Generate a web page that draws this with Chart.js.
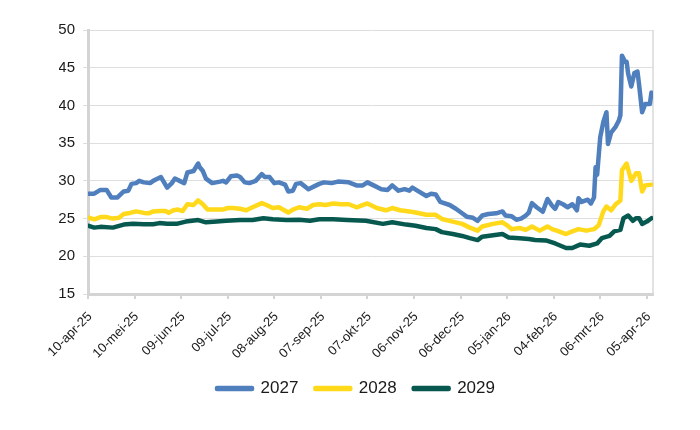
<!DOCTYPE html>
<html>
<head>
<meta charset="utf-8">
<script src="https://cdn.jsdelivr.net/npm/chart.js@4"></script>
<style>
  html, body { margin: 0; padding: 0; background: #ffffff; }
  #wrap { width: 700px; height: 430px; }
</style>
</head>
<body>
<div id="wrap"><canvas id="c" width="700" height="430"></canvas></div>
<script>
// Day offsets counted from 10-apr-25 (calendar days), and values
const tickLabels = ['10-apr-25','10-mei-25','09-jun-25','09-jul-25','08-aug-25','07-sep-25','07-okt-25','06-nov-25','06-dec-25','05-jan-26','04-feb-26','06-mrt-26','05-apr-26'];
const seriesNames = ['2027', '2028', '2029'];

const days2027 = [0,4,8,12,15,19,23,26,28,31,33,36,40,42,45,47,51,54,56,59,62,64,68,71,72,74,76,80,85,87,89,92,96,98,101,104,108,112,114,117,120,123,127,129,132,134,137,142,146,149,152,157,161,168,173,177,180,184,189,193,196,200,204,207,209,213,218,221,224,227,233,237,241,244,248,251,254,258,263,267,269,273,276,279,282,284,286,289,293,296,299,301,303,306,309,312,315,316,318,322,324,326,327,328,330,332,334,335,337,340,342,343,344,346,347,348,350,352,354,355,357,359,362,363];
const values2027 = [28.3,28.3,28.8,28.8,27.8,27.8,28.6,28.7,29.6,29.7,30.0,29.8,29.7,30.0,30.3,30.5,29.1,29.7,30.3,30.0,29.7,31.1,31.3,32.3,31.8,31.3,30.3,29.7,29.9,30.0,29.8,30.6,30.7,30.5,29.8,29.7,30.0,30.9,30.5,30.5,29.7,29.8,29.5,28.6,28.7,29.6,29.7,28.9,29.3,29.6,29.8,29.7,29.9,29.8,29.4,29.4,29.8,29.4,28.9,28.8,29.4,28.7,28.9,28.7,29.1,28.6,28.0,28.3,28.2,27.2,26.8,26.3,25.7,25.25,25.1,24.7,25.4,25.6,25.7,25.95,25.4,25.3,24.85,25.0,25.4,25.8,27.05,26.5,25.9,27.6,26.7,26.3,27.2,26.9,26.5,26.9,26.1,27.7,27.2,27.5,27.0,27.8,31.8,30.8,35.8,37.8,39.1,34.9,36.4,37.2,38.0,38.7,46.6,45.8,45.8,44.2,42.5,44.3,44.5,42.8,39.1,40.2,40.2,41.7];

const days2028 = [0,4,8,12,16,20,23,27,31,36,39,42,46,50,52,55,58,61,64,68,71,74,77,83,87,90,93,98,102,106,112,115,119,123,129,132,136,141,145,149,153,158,163,168,173,180,186,192,196,201,207,211,218,224,228,233,237,241,246,251,254,261,267,270,273,278,282,286,291,296,299,302,308,312,316,321,326,329,332,334,337,340,343,344,347,350,353,355,357,359,363];
const values2028 = [25.15,24.9,25.2,25.2,25.0,25.1,25.6,25.75,25.95,25.75,25.7,25.95,26.0,26.0,25.75,26.1,26.2,26.0,26.9,26.8,27.4,26.9,26.2,26.2,26.2,26.4,26.4,26.3,26.1,26.5,27.05,26.8,26.4,26.5,25.8,26.2,26.5,26.3,26.8,26.9,26.8,27.0,26.9,26.9,26.5,27.0,26.4,26.1,26.4,26.1,25.95,25.8,25.5,25.5,24.95,24.7,24.5,24.3,23.8,23.4,23.95,24.3,24.5,24.1,23.6,23.75,23.5,23.95,23.4,23.95,23.6,23.4,22.95,23.3,23.6,23.4,23.6,24.1,25.95,26.6,26.1,26.9,27.4,31.4,32.3,30.0,31.0,31.0,28.6,29.4,29.5];

const days2029 = [0,4,8,16,23,29,36,42,46,51,57,63,71,76,83,89,98,106,113,119,128,136,143,149,158,167,179,190,196,205,211,218,224,228,235,241,246,251,254,261,267,271,278,284,288,295,301,308,312,317,323,328,331,336,339,343,345,348,351,353,355,357,360,363];
const values2029 = [24.05,23.8,23.9,23.8,24.2,24.3,24.25,24.25,24.4,24.3,24.3,24.6,24.8,24.5,24.6,24.7,24.8,24.8,25.05,24.9,24.8,24.85,24.7,24.9,24.9,24.8,24.7,24.3,24.5,24.2,24.05,23.75,23.6,23.2,22.95,22.7,22.4,22.15,22.6,22.8,22.95,22.5,22.4,22.3,22.15,22.1,21.7,21.1,21.1,21.55,21.4,21.7,22.4,22.7,23.3,23.5,25.05,25.4,24.7,25.05,25.05,24.3,24.6,25.05];

const yTicks = { min: 15, max: 50, step: 5 };
const xAxisDays = { min: 0, max: 364, step: 30 };

const colors = ['#4f7fbd', '#ffd91a', '#07594f'];

function toPoints(days, vals) {
  return days.map((d, i) => ({ x: d, y: vals[i] }));
}

const seriesDays = [days2027, days2028, days2029];
const seriesVals = [values2027, values2028, values2029];

const datasets = seriesNames.map((name, i) => ({
  label: name,
  data: toPoints(seriesDays[i], seriesVals[i]),
  borderColor: colors[i],
  backgroundColor: colors[i],
  borderWidth: 4.5,
  pointRadius: 0,
  tension: 0,
  borderJoinStyle: 'round',
  borderCapStyle: 'round'
}));

const rightBorder = {
  id: 'rightBorder',
  beforeDatasetsDraw(chart) {
    const { ctx, chartArea } = chart;
    ctx.save();
    ctx.strokeStyle = '#d9d9d9';
    ctx.lineWidth = 1.5;
    ctx.beginPath();
    ctx.moveTo(chartArea.right, chartArea.top);
    ctx.lineTo(chartArea.right, chartArea.bottom);
    ctx.stroke();
    ctx.restore();
  }
};

Chart.defaults.font.family = "'Liberation Sans', Arial, sans-serif";
Chart.defaults.color = '#1a1a1a';

new Chart(document.getElementById('c'), {
  type: 'line',
  data: { datasets },
  plugins: [rightBorder],
  options: {
    responsive: false,
    animation: false,
    devicePixelRatio: 1,
    layout: { padding: { left: 59, right: 47, top: 30, bottom: 23 } },
    plugins: {
      tooltip: { enabled: false },
      legend: {
        position: 'bottom',
        labels: {
          boxWidth: 35,
          boxHeight: 1,
          padding: 17,
          font: { size: 17 },
          color: '#1a1a1a'
        }
      }
    },
    scales: {
      x: {
        type: 'linear',
        min: xAxisDays.min,
        max: xAxisDays.max,
        afterFit: (s) => { s.height = 69; },
        grid: { drawOnChartArea: false, drawTicks: true, tickLength: 5, color: '#d4d4d4', lineWidth: 2 },
        border: { color: '#d4d4d4', width: 3 },
        ticks: {
          stepSize: xAxisDays.step,
          autoSkip: false,
          includeBounds: false,
          maxRotation: 45,
          minRotation: 45,
          padding: 10,
          labelOffset: 2,
          font: { size: 13 },
          color: '#1a1a1a',
          callback: (v) => {
            const k = Math.round(v / xAxisDays.step);
            return (Math.abs(v - k * xAxisDays.step) < 0.01 && tickLabels[k]) ? tickLabels[k] : '';
          }
        }
      },
      y: {
        min: yTicks.min,
        max: yTicks.max,
        afterFit: (s) => { s.width = 29; },
        grid: { color: '#dedede', lineWidth: 1, tickLength: 5, drawTicks: true },
        border: { color: '#d4d4d4', width: 3 },
        ticks: { stepSize: yTicks.step, padding: 8, font: { size: 15 }, color: '#1a1a1a' }
      }
    }
  }
});
</script>
</body>
</html>
